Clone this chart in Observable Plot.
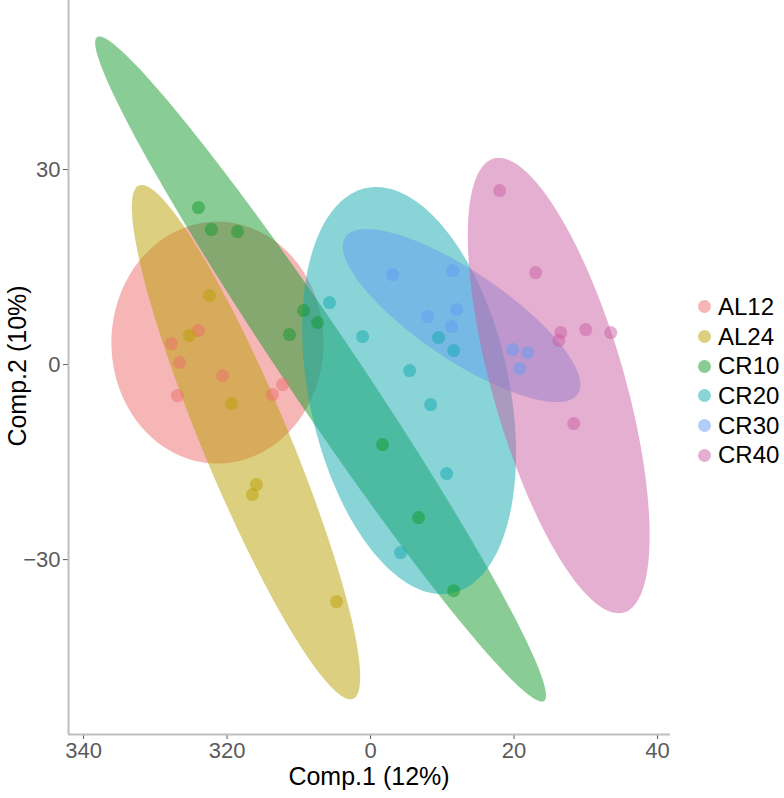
<!DOCTYPE html>
<html>
<head>
<meta charset="utf-8">
<script src="https://cdn.jsdelivr.net/npm/d3@7"></script>
<script src="https://cdn.jsdelivr.net/npm/@observablehq/plot@0.6"></script>
<style>
  body { margin: 0; background: #fff; font-family: "Liberation Sans", Arial, sans-serif; }
  #wrap { position: relative; width: 784px; height: 798px; overflow: hidden; }
  #chart { position: absolute; left: 0; top: 0; }
  .xtitle { position: absolute; left: 369px; top: 776px; transform: translate(-50%, -50%); font-size: 25px; color: #000; white-space: nowrap; }
  .ytitle { position: absolute; left: 17px; top: 366px; transform: translate(-50%, -50%) rotate(-90deg); font-size: 25px; color: #000; white-space: nowrap; }
  #legend { position: absolute; left: 698px; top: 292px; }
  .row { display: flex; align-items: center; height: 29.7px; }
  .key { width: 13px; height: 13px; border-radius: 50%; opacity: 0.5; margin-right: 7px; }
  .lab { font-size: 24px; color: #000; line-height: 1; }
</style>
</head>
<body>
<div id="wrap">
  <div id="chart"></div>
  <div class="xtitle">Comp.1 (12%)</div>
  <div class="ytitle">Comp.2 (10%)</div>
  <div id="legend"></div>
</div>
<script>
// ---- data ----
const groups = ["AL12", "AL24", "CR10", "CR20", "CR30", "CR40"];
const colors = ["#EB6D6B", "#B99F01", "#139A2C", "#12A9B0", "#629EF2", "#CB5FA3"];

// sample scores (Comp.1, Comp.2) per group
const AL12_comp1 = [-27.75, -26.64, -23.99, -20.64, -26.92, -13.67, -12.27];
const AL12_comp2 = [3.23, 0.31, 5.23, -1.69, -4.77, -4.62, -3.08];
const AL24_comp1 = [-22.45, -25.24, -19.39, -15.90, -16.46, -4.74];
const AL24_comp2 = [10.62, 4.46, -6.00, -18.46, -20.00, -36.46];
const CR10_comp1 = [-23.99, -22.18, -18.55, -9.34, -7.39, -11.30, 1.67, 6.69, 11.58];
const CR10_comp2 = [24.15, 20.77, 20.46, 8.31, 6.46, 4.62, -12.31, -23.54, -34.77];
const CR20_comp1 = [-5.72, -1.12, 5.44, 8.37, 10.60, 4.18, 9.48, 11.58];
const CR20_comp2 = [9.54, 4.31, -0.92, -6.15, -16.77, -28.92, 4.15, 2.15];
const CR30_comp1 = [3.07, 11.44, 7.95, 11.99, 11.30, 19.80, 21.90, 20.78];
const CR30_comp2 = [13.85, 14.46, 7.38, 8.46, 5.85, 2.31, 1.85, -0.62];
const CR40_comp1 = [17.99, 23.01, 26.50, 26.22, 29.99, 33.47, 28.31];
const CR40_comp2 = [26.77, 14.15, 4.92, 3.69, 5.38, 4.92, -9.08];

// confidence ellipses: centre and two conjugate semi-axis vectors (data units)
const ellipseCx = [-21.34, -17.36, -6.97, 5.37, 12.69, 26.22];
const ellipseCy = [3.38, -11.92, -0.69, -4.00, 7.54, -3.23];
const ellipseAx = [14.78, 14.92, 31.14, 6.00, 16.19, 9.07];
const ellipseAy = [0.00, -39.48, -51.06, -31.15, -12.06, -34.91];
const ellipseBx = [0.00, -5.54, -4.17, -13.64, -3.43, -8.85];
const ellipseBy = [18.60, -2.54, -3.09, -3.20, -5.62, -2.80];

// axes
const xDomain = [-42.1, 41.8];
const yDomain = [-56.9, 56.0];
const xTicks = [-40, -20, 0, 20, 40];
const xTickLabels = ["340", "320", "0", "20", "40"];
const yTicks = [-30, 0, 30];
const yTickLabels = ["\u221230", "0", "30"];

// ---- build tables ----
const scoreX = [AL12_comp1, AL24_comp1, CR10_comp1, CR20_comp1, CR30_comp1, CR40_comp1];
const scoreY = [AL12_comp2, AL24_comp2, CR10_comp2, CR20_comp2, CR30_comp2, CR40_comp2];
const points = [];
groups.forEach((g, i) => scoreX[i].forEach((x, j) => points.push({group: g, x, y: scoreY[i][j]})));

const ellipsePts = [];
const N = 160;
groups.forEach((g, i) => {
  for (let k = 0; k <= N; k++) {
    const t = 2 * Math.PI * k / N;
    ellipsePts.push({
      group: g,
      x: ellipseCx[i] + Math.cos(t) * ellipseAx[i] + Math.sin(t) * ellipseBx[i],
      y: ellipseCy[i] + Math.cos(t) * ellipseAy[i] + Math.sin(t) * ellipseBy[i]
    });
  }
});

const chart = Plot.plot({
  width: 784,
  height: 798,
  marginLeft: 68,
  marginRight: 114,
  marginTop: 0,
  marginBottom: 64,
  style: {fontFamily: "'Liberation Sans', Arial, sans-serif", fontSize: "22px", color: "#5A5A5A", background: "transparent", overflow: "visible"},
  x: {domain: xDomain, ticks: xTicks, tickFormat: d => xTickLabels[xTicks.indexOf(d)], label: null, tickSize: 5, tickPadding: 3},
  y: {domain: yDomain, ticks: yTicks, tickFormat: d => yTickLabels[yTicks.indexOf(d)], label: null, tickSize: 5, tickPadding: 3},
  color: {domain: groups, range: colors},
  marks: [
    Plot.line(ellipsePts, {x: "x", y: "y", z: "group", fill: "group", fillOpacity: 0.5, stroke: "none"}),
    Plot.dot(points, {x: "x", y: "y", fill: "group", r: 6.5, fillOpacity: 0.5, stroke: "none"}),
    Plot.ruleX([xDomain[0]], {stroke: "#BEBEBE", strokeWidth: 2}),
    Plot.ruleY([yDomain[0]], {stroke: "#BEBEBE", strokeWidth: 2})
  ]
});
document.getElementById("chart").appendChild(chart);

const legend = document.getElementById("legend");
groups.forEach((g, i) => {
  const row = document.createElement("div");
  row.className = "row";
  const key = document.createElement("div");
  key.className = "key";
  key.style.background = colors[i];
  const lab = document.createElement("div");
  lab.className = "lab";
  lab.textContent = g;
  row.appendChild(key);
  row.appendChild(lab);
  legend.appendChild(row);
});
</script>
</body>
</html>
